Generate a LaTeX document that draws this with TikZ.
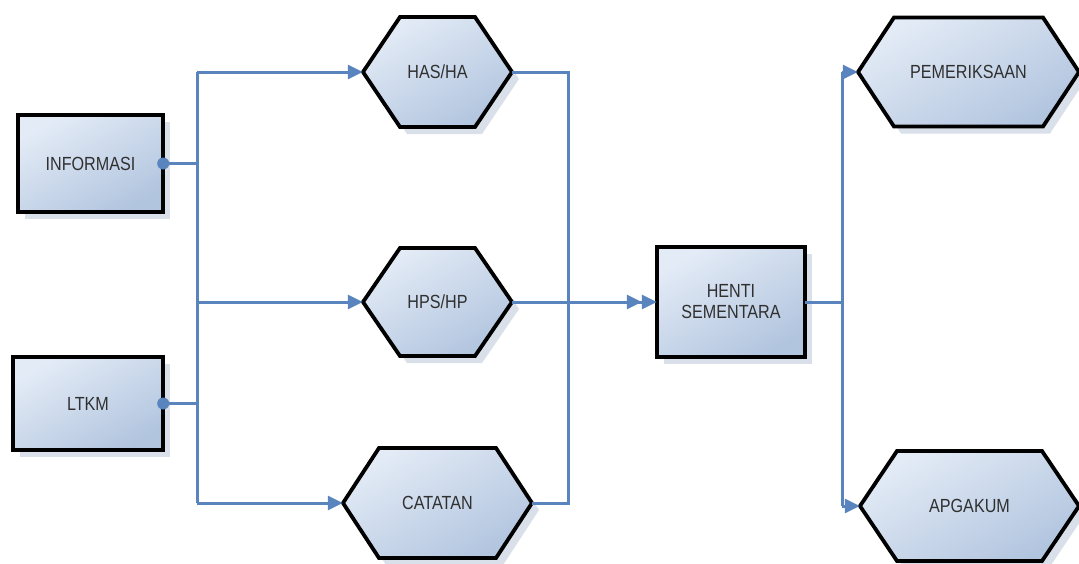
\documentclass[tikz,border=0pt]{standalone}
\usepackage{fontspec}
\setmainfont{Liberation Sans}[FakeStretch=0.85]
\usetikzlibrary{arrows.meta}
\definecolor{lnblue}{HTML}{5A84BE}
\definecolor{fillA}{HTML}{E3EBF6}
\definecolor{fillB}{HTML}{B2C5DF}
\definecolor{shadowc}{HTML}{D9E0EA}
\definecolor{txtc}{HTML}{303030}
\tikzset{
  boxfill/.style={draw=black, line width=3.8pt, line join=miter, shade, shading=axis, top color=fillA, bottom color=fillB, shading angle=30},
  shadowfill/.style={fill=shadowc},
  txt/.style={text=txtc, font=\fontsize{19}{21}\selectfont, align=center, inner sep=0pt},
  conn/.style={draw=lnblue, line width=3pt},
  arr/.style={-{Triangle[length=15pt,width=14pt]}},
  darr/.style={-{Triangle[length=15pt,width=14pt]Triangle[length=15pt,width=14pt]}},
  dot/.style={circle, fill=lnblue, inner sep=0pt, minimum size=12pt}
}
% name, cx, cy, halfw, halfh, inset, text
\newcommand\hexnode[7]{%
  \fill[shadowfill] ({#2-#4+7},{#3+7}) -- ({#2-#4+#6+7},{#3-#5+7}) -- ({#2+#4-#6+7},{#3-#5+7}) -- ({#2+#4+7},{#3+7}) -- ({#2+#4-#6+7},{#3+#5+7}) -- ({#2-#4+#6+7},{#3+#5+7}) -- cycle;
  \path[boxfill] ({#2-#4},#3) -- ({#2-#4+#6},{#3-#5}) -- ({#2+#4-#6},{#3-#5}) -- ({#2+#4},#3) -- ({#2+#4-#6},{#3+#5}) -- ({#2-#4+#6},{#3+#5}) -- cycle;
  \node[txt, minimum width={2*#4}, minimum height={2*#5}] (#1) at (#2,#3) {#7};
}
% name, cx, cy, halfw, halfh, text
\newcommand\boxnode[6]{%
  \fill[shadowfill] ({#2-#4+7},{#3-#5+7}) rectangle ({#2+#4+7},{#3+#5+7});
  \path[boxfill] ({#2-#4},{#3-#5}) rectangle ({#2+#4},{#3+#5});
  \node[txt, minimum width={2*#4}, minimum height={2*#5}] (#1) at (#2,#3) {#6};
}
\begin{document}
\begin{tikzpicture}[x=1pt,y=-1pt]
\useasboundingbox[fill=white] (0,0) rectangle (1079,563);

\boxnode{inf}{90.5}{163.5}{72.5}{48.5}{INFORMASI}
\boxnode{ltkm}{88}{403.5}{75}{46.5}{LTKM}
\boxnode{henti}{731}{302}{74}{55}{HENTI\\SEMENTARA}

\hexnode{has}{437.5}{72}{74.5}{55}{37}{HAS/HA}
\hexnode{hps}{437.5}{302}{74.5}{54}{37}{HPS/HP}
\hexnode{cat}{437.5}{503}{94.5}{55}{36}{CATATAN}
\hexnode{pem}{968.5}{72}{110.5}{54.5}{36}{PEMERIKSAAN}
\hexnode{apg}{969.5}{506}{109.5}{55}{37}{APGAKUM}

\coordinate (lt) at (197,72);
\coordinate (lb) at (197,503);
\coordinate (mt) at (568,72);
\coordinate (mb) at (568,503);
\coordinate (rt) at (842,72);
\coordinate (rb) at (842,506);

% left trunk
\draw[conn] (lb) -- (lt);
\draw[conn] (inf.east) -- (inf.east -| lt);
\draw[conn] (ltkm.east) -- (ltkm.east -| lt);
\node[dot] (d1) at (inf.east) {};
\node[dot] (d2) at (ltkm.east) {};
\draw[conn,arr] (lt) -- (has.west);
\draw[conn,arr] (hps.west -| lt) -- (hps.west);
\draw[conn,arr] (lb) -- (cat.west);

% middle trunk
\draw[conn] (has.east) -- (mt) -- (mb) -- (cat.east);
\draw[conn,darr] (hps.east) -- (henti.west);

% right trunk
\draw[conn] (henti.east) -- (henti.east -| rt);
\draw[conn] (rb) -- (rt);
\draw[conn,arr] (rt) -- (pem.west);
\draw[conn,arr] (rb) -- (apg.west);
\end{tikzpicture}
\end{document}
